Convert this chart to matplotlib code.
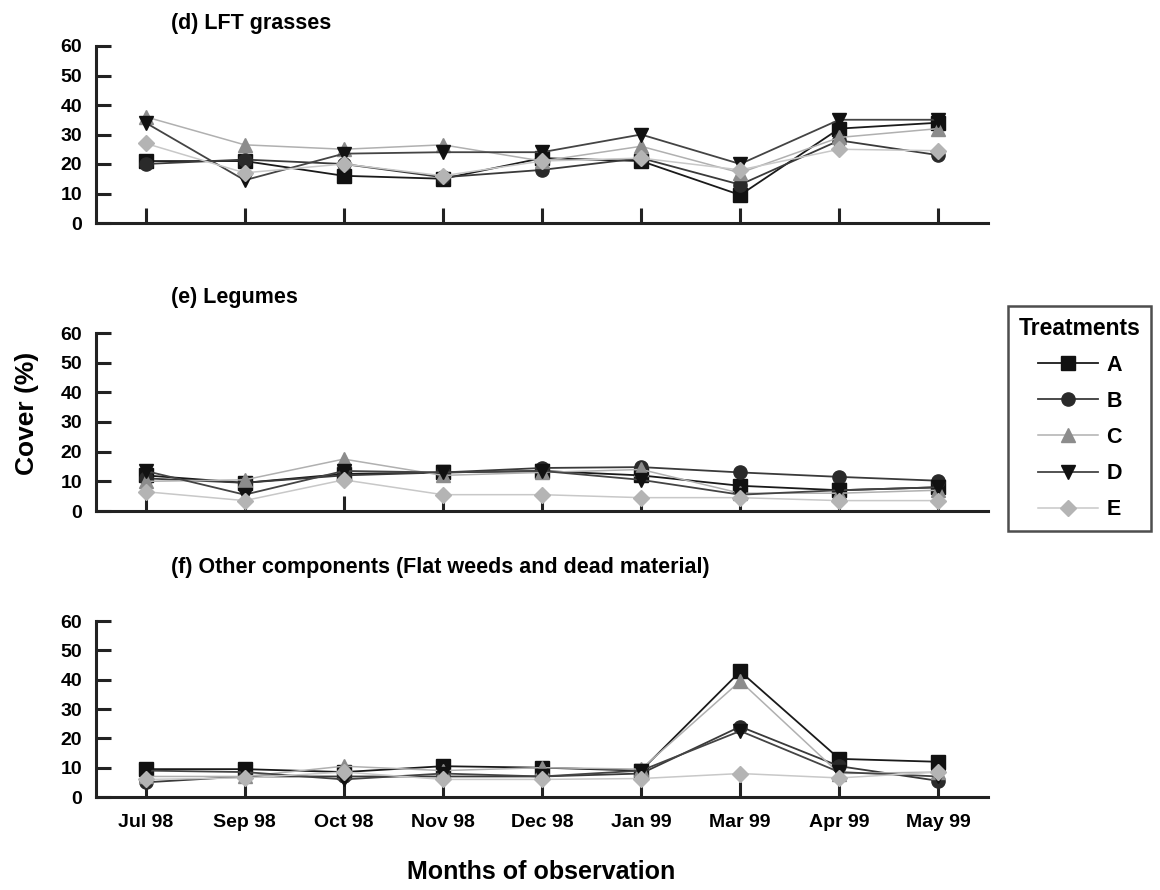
import matplotlib
matplotlib.use("Agg")
import matplotlib.pyplot as plt
from matplotlib.lines import Line2D

plt.rcParams["font.family"] = ["Liberation Sans", "DejaVu Sans"]
plt.rcParams["font.weight"] = "bold"

months = ["Jul 98", "Sep 98", "Oct 98", "Nov 98", "Dec 98", "Jan 99", "Mar 99", "Apr 99", "May 99"]
treatments = ["A", "B", "C", "D", "E"]

# (d) LFT grasses
grass_A = [21, 21, 16, 15, 22, 21, 9.5, 32, 34]
grass_B = [20, 21.5, 20, 15.5, 18, 22, 13, 28, 23]
grass_C = [36, 26.5, 25, 26.5, 21, 26, 17, 29, 32]
grass_D = [34, 14.5, 23.5, 24, 24, 30, 20, 35, 35]
grass_E = [27, 17, 20, 16, 21, 22, 18, 25, 24.5]

# (e) Legumes
leg_A = [12, 9.5, 12.5, 13, 13.5, 12, 8.5, 7, 8]
leg_B = [11, 9.5, 12, 13, 14.5, 14.8, 13, 11.5, 10.2]
leg_C = [10, 10.5, 17.5, 12, 13, 14, 6, 6, 7]
leg_D = [13.5, 5.5, 13.5, 13, 13.5, 10.5, 5.5, 7, 8]
leg_E = [6.5, 3.5, 10.5, 5.5, 5.5, 4.5, 4.5, 3.5, 3.5]

# (f) Other components
oth_A = [9.5, 9.5, 8.5, 10.5, 10, 9, 42.8, 13, 12]
oth_B = [5, 7, 7, 7, 7, 8, 24, 10.5, 5.5]
oth_C = [7, 7, 10.5, 9, 10, 9.5, 39.5, 8, 8.5]
oth_D = [9, 8.5, 6, 8, 7, 9, 22.5, 8.5, 7]
oth_E = [6, 6.5, 8.5, 6, 6, 6.3, 8, 6.5, 8.5]

panels = [
    ("(d) LFT grasses", [grass_A, grass_B, grass_C, grass_D, grass_E]),
    ("(e) Legumes", [leg_A, leg_B, leg_C, leg_D, leg_E]),
    ("(f) Other components (Flat weeds and dead material)", [oth_A, oth_B, oth_C, oth_D, oth_E]),
]

styles = {
    "A": dict(color="#1a1a1a", marker="s", mfc="#111111", mec="#111111", lw=1.3),
    "B": dict(color="#3a3a3a", marker="o", mfc="#2a2a2a", mec="#2a2a2a", lw=1.3),
    "C": dict(color="#b0b0b0", marker="^", mfc="#8c8c8c", mec="#8c8c8c", lw=1.1),
    "D": dict(color="#444444", marker="v", mfc="#111111", mec="#111111", lw=1.3),
    "E": dict(color="#c8c8c8", marker="D", mfc="#b4b4b4", mec="#b4b4b4", lw=1.1, ms=8),
}

fig = plt.figure(figsize=(11.6, 8.9), dpi=100)

left, width = 96 / 1160, (988 - 96) / 1160
# (zero line px, height px, title centre px)
boxes = [(223, 177, 23), (511, 178, 297), (797, 176, 568)]

x = list(range(len(months)))
for k, ((title, series), (y0, h, ty)) in enumerate(zip(panels, boxes)):
    ax = fig.add_axes([left, 1 - y0 / 890, width, h / 890])
    for name, vals in zip(treatments, series):
        st = dict(styles[name])
        ms = st.pop("ms", 9.5)
        ax.plot(x, vals, ms=ms, label=name, **st)
    ax.set_xlim(-0.5, 8.5)
    ax.set_ylim(0, 60)
    ax.set_yticks(range(0, 61, 10))
    ax.set_xticks(x)
    for s in ("top", "right"):
        ax.spines[s].set_visible(False)
    for s in ("left", "bottom"):
        ax.spines[s].set_linewidth(2.2)
        ax.spines[s].set_color("#222222")
    ax.tick_params(direction="in", length=11, width=2.2, color="#222222",
                   labelsize=14, pad=8)
    ax.tick_params(axis="y", pad=10)
    if k == 2:
        ax.set_xticklabels(months, fontsize=14, fontweight="bold")
        ax.tick_params(axis="x", pad=12)
    else:
        ax.set_xticklabels([])
    for lbl in ax.get_yticklabels():
        lbl.set_fontweight("bold")
    fig.text(171 / 1160, 1 - ty / 890, title, fontsize=15.5, fontweight="bold",
             ha="left", va="center")

fig.text(541 / 1160, 1 - 872 / 890, "Months of observation", ha="center", va="center",
         fontsize=18, fontweight="bold")
fig.text(27 / 1160, 1 - 413 / 890, "Cover (%)", ha="center", va="center",
         rotation=90, fontsize=19, fontweight="bold")

handles = []
for name in treatments:
    st = dict(styles[name])
    ms = st.pop("ms", 9.5)
    handles.append(Line2D([], [], ms=ms, **st))
leg = fig.legend(handles, treatments, title="Treatments", loc="upper left",
                 bbox_to_anchor=(1008 / 1160, 1 - 306 / 890), frameon=True,
                 fancybox=False, edgecolor="#222222", fontsize=15.5,
                 title_fontsize=16.5, handlelength=2.8, labelspacing=0.7,
                 borderpad=0.5, handletextpad=0.4, borderaxespad=0)
leg.get_frame().set_linewidth(1.8)
leg.get_title().set_fontweight("bold")
for t in leg.get_texts():
    t.set_fontweight("bold")

fig.savefig("out.png", dpi=100)
